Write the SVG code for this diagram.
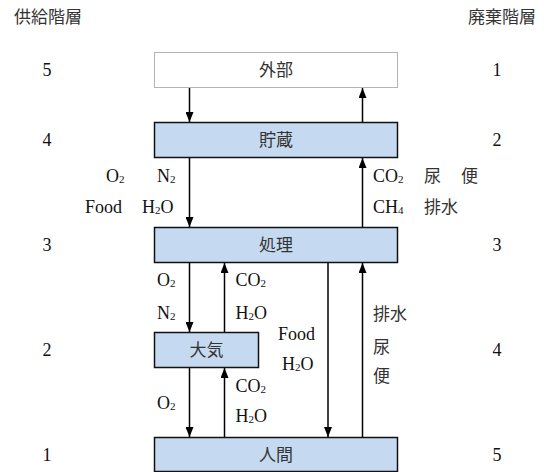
<svg xmlns="http://www.w3.org/2000/svg" width="544" height="472" viewBox="0 0 544 472">
<defs>
<marker id="ah" viewBox="0 0 10 8" refX="10" refY="4" markerWidth="10" markerHeight="8" markerUnits="userSpaceOnUse" orient="auto">
<path d="M0,0 L10,4 L0,8 Z" fill="#000"/>
</marker>
<style>
.box{fill:#C5D9F0;stroke:#111;stroke-width:1.5}
.ext{fill:#fff;stroke:#666;stroke-width:1;stroke-dasharray:1 1}
.jp{font-family:"Noto Sans CJK JP","Noto Sans",sans-serif;font-size:17px;fill:#333}
.lt{font-family:"Liberation Serif","Times New Roman",serif;font-size:18px;fill:#111}
.sub{font-size:11px}
.c{text-anchor:middle}
.e{text-anchor:end}
.ar{stroke:#000;stroke-width:1.5;fill:none}
</style>
</defs>
<rect width="544" height="472" fill="#fff"/>
<g id="headers">
<text class="jp" x="14" y="23">供給階層</text>
<text class="jp" x="468" y="23">廃棄階層</text>
</g>
<g id="supply-levels" class="lt c">
<text x="47" y="76">5</text>
<text x="47" y="146">4</text>
<text x="47" y="251">3</text>
<text x="47" y="356">2</text>
<text x="47" y="461">1</text>
</g>
<g id="waste-levels" class="lt c">
<text x="497" y="76">1</text>
<text x="497" y="146">2</text>
<text x="497" y="251">3</text>
<text x="497" y="356">4</text>
<text x="497" y="461">5</text>
</g>
<g id="gaibu">
<rect class="ext" x="154.5" y="52.5" width="243" height="35"/>
<text class="jp c" x="276" y="76">外部</text>
</g>
<g id="chozo">
<rect class="box" x="154.5" y="122.5" width="243" height="35"/>
<text class="jp c" x="276" y="146">貯蔵</text>
</g>
<g id="shori">
<rect class="box" x="154.5" y="227.5" width="243" height="35"/>
<text class="jp c" x="276" y="251">処理</text>
</g>
<g id="taiki">
<rect class="box" x="154.5" y="332.5" width="104" height="35"/>
<text class="jp c" x="206.5" y="356">大気</text>
</g>
<g id="ningen">
<rect class="box" x="154.5" y="437.5" width="243" height="34"/>
<text class="jp c" x="276" y="461">人間</text>
</g>
<g id="connectors">
<line class="ar" x1="189.5" y1="88" x2="189.5" y2="122" marker-end="url(#ah)"/>
<line class="ar" x1="362.5" y1="122" x2="362.5" y2="88" marker-end="url(#ah)"/>
<line class="ar" x1="189.5" y1="158" x2="189.5" y2="227" marker-end="url(#ah)"/>
<line class="ar" x1="362.5" y1="227" x2="362.5" y2="158" marker-end="url(#ah)"/>
<line class="ar" x1="189.5" y1="263" x2="189.5" y2="332" marker-end="url(#ah)"/>
<line class="ar" x1="224.5" y1="332" x2="224.5" y2="263" marker-end="url(#ah)"/>
<line class="ar" x1="189.5" y1="368" x2="189.5" y2="437" marker-end="url(#ah)"/>
<line class="ar" x1="224.5" y1="437" x2="224.5" y2="368" marker-end="url(#ah)"/>
<line class="ar" x1="328" y1="263" x2="328" y2="437" marker-end="url(#ah)"/>
<line class="ar" x1="362.5" y1="437" x2="362.5" y2="263" marker-end="url(#ah)"/>
</g>
<g id="labels">
<text class="lt" x="106" y="181.5">O<tspan class="sub" dy="1">2</tspan></text>
<text class="lt" x="157" y="181.5">N<tspan class="sub" dy="1">2</tspan></text>
<text class="lt" x="85" y="213">Food</text>
<text class="lt" x="142" y="213">H<tspan class="sub" dy="1">2</tspan><tspan dy="-1">O</tspan></text>
<text class="lt" x="373" y="181.5">CO<tspan class="sub" dy="1">2</tspan></text>
<text class="lt" x="373" y="213">CH<tspan class="sub" dy="1">4</tspan></text>
<text class="jp" x="424" y="181.5">尿</text>
<text class="jp" x="461" y="181.5">便</text>
<text class="jp" x="424" y="213">排水</text>
<text class="lt" x="157" y="285.5">O<tspan class="sub" dy="1">2</tspan></text>
<text class="lt" x="157" y="318.5">N<tspan class="sub" dy="1">2</tspan></text>
<text class="lt" x="235.5" y="285.5">CO<tspan class="sub" dy="1">2</tspan></text>
<text class="lt" x="235.5" y="318.5">H<tspan class="sub" dy="1">2</tspan><tspan dy="-1">O</tspan></text>
<text class="lt" x="278" y="339.5">Food</text>
<text class="lt" x="282" y="370">H<tspan class="sub" dy="1">2</tspan><tspan dy="-1">O</tspan></text>
<text class="jp" x="373" y="320">排水</text>
<text class="jp" x="373" y="353">尿</text>
<text class="jp" x="373" y="382">便</text>
<text class="lt" x="157" y="409">O<tspan class="sub" dy="1">2</tspan></text>
<text class="lt" x="235.5" y="391.5">CO<tspan class="sub" dy="1">2</tspan></text>
<text class="lt" x="235.5" y="421.5">H<tspan class="sub" dy="1">2</tspan><tspan dy="-1">O</tspan></text>
</g>
</svg>
